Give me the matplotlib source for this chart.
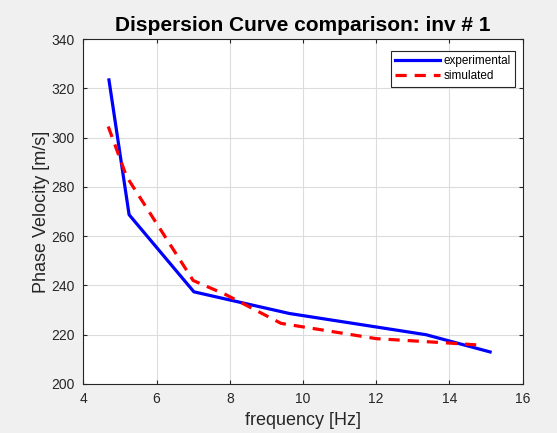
import numpy as np
import matplotlib
matplotlib.use('Agg')
import matplotlib.pyplot as plt

plt.rcParams['font.family'] = ['Liberation Sans', 'DejaVu Sans']

# experimental dispersion curve
freq_exp = [4.70, 5.25, 7.02, 9.63, 13.36, 15.11]
vel_exp = [323.4, 268.7, 237.4, 228.6, 220.0, 213.0]

# simulated dispersion curve
freq_sim = [4.68, 5.18, 7.00, 7.90, 9.40, 12.00, 14.00, 14.91]
vel_sim = [304.5, 284.2, 242.0, 236.2, 224.6, 218.4, 216.6, 215.7]

fig = plt.figure(figsize=(5.57, 4.33), dpi=100, facecolor='#f0f0f0')
ax = fig.add_axes([0.1496, 0.1132, 0.7888, 0.7967])

ax.plot(freq_exp, vel_exp, color='#0000ff', lw=2.3, label='experimental')
ax.plot(freq_sim, vel_sim, color='#ff0000', lw=2.3, ls=(0, (3.5, 2.5)), label='simulated')

ax.set_xlim(4, 16)
ax.set_ylim(200, 340)
ax.set_xticks(np.arange(4, 17, 2))
ax.set_yticks(np.arange(200, 341, 20))
ax.grid(True, color='#dcdcdc', lw=0.8)
ax.set_axisbelow(True)
ax.tick_params(direction='in', length=3, labelsize=10, colors='#262626',
               top=True, right=True, pad=6)
for s in ax.spines.values():
    s.set_color('#262626')
    s.set_linewidth(0.8)

ax.set_xlabel('frequency [Hz]', fontsize=13, color='#262626', labelpad=4)
ax.set_ylabel('Phase Velocity [m/s]', fontsize=13, color='#262626', labelpad=1)
ax.set_title('Dispersion Curve comparison: inv # 1', fontsize=15, fontweight='bold', pad=6)

leg = ax.legend(loc='upper right', bbox_to_anchor=(0.9825, 0.966), borderaxespad=0,
                fontsize=8.5, fancybox=False, framealpha=1,
                edgecolor='#262626', handlelength=3.8, handletextpad=0.3,
                borderpad=0.35, labelspacing=0.3)
leg.get_frame().set_linewidth(0.8)

fig.savefig('out.png', dpi=100, facecolor=fig.get_facecolor())
